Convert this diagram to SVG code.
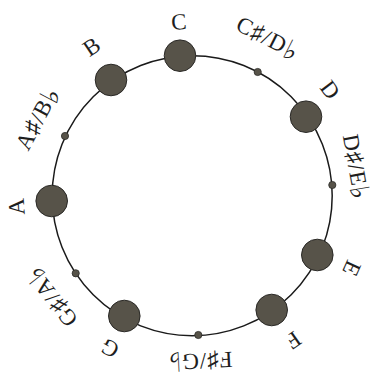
<svg xmlns="http://www.w3.org/2000/svg" width="378" height="381" viewBox="0 0 378 381">
<style>
.lbl{font-family:"Liberation Serif","DejaVu Serif",serif;font-size:23px;fill:#1e1e1e;text-anchor:middle;dominant-baseline:central}
.acc{letter-spacing:1px}
.fl{font-family:"DejaVu Serif",serif;font-size:27px}
.big{fill:#575349;stroke:#2a2926;stroke-width:1}
.small{fill:#575349;stroke:#2a2926;stroke-width:0.8}
.ring{fill:none;stroke:#1a1a1a;stroke-width:1.5}
</style>
<rect width="378" height="381" fill="#ffffff"/>
<g id="connectors">
<circle class="ring" cx="192.2" cy="195.7" r="140"/>
</g>
<g id="node-C"><circle class="big" cx="180" cy="55.7" r="15.8"/><text class="lbl" transform="translate(179,22) rotate(-4)">C</text></g>
<g id="node-Cs"><circle class="small" cx="257.7" cy="72" r="3.6"/><text class="lbl acc" transform="translate(268,38) rotate(27)">C♯/D<tspan class="fl">♭</tspan></text></g>
<g id="node-D"><circle class="big" cx="306" cy="116.7" r="15.8"/><text class="lbl" transform="translate(330,90) rotate(53)">D</text></g>
<g id="node-Ds"><circle class="small" cx="332.3" cy="185" r="3.6"/><text class="lbl acc" transform="translate(356,167) rotate(80)">D♯/E<tspan class="fl">♭</tspan></text></g>
<g id="node-E"><circle class="big" cx="317.3" cy="255" r="15.8"/><text class="lbl" transform="translate(351.7,268.3) rotate(114.5)">E</text></g>
<g id="node-F"><circle class="big" cx="271.7" cy="310" r="15.8"/><text class="lbl" transform="translate(293.3,340) rotate(145)">F</text></g>
<g id="node-Fs"><circle class="small" cx="198.3" cy="335" r="3.6"/><text class="lbl acc" transform="translate(200,361) rotate(177)">F♯/G<tspan class="fl">♭</tspan></text></g>
<g id="node-G"><circle class="big" cx="124.3" cy="316" r="15.8"/><text class="lbl" transform="translate(110,348.3) rotate(208)">G</text></g>
<g id="node-Gs"><circle class="small" cx="75.7" cy="273.3" r="3.6"/><text class="lbl acc" transform="translate(51.7,296.7) rotate(232)">G♯/A<tspan class="fl">♭</tspan></text></g>
<g id="node-A"><circle class="big" cx="51.7" cy="201" r="15.8"/><text class="lbl" transform="translate(16.7,206.7) rotate(266)">A</text></g>
<g id="node-As"><circle class="small" cx="65" cy="136" r="3.6"/><text class="lbl acc" transform="translate(37.5,118.3) rotate(298)">A♯/B<tspan class="fl">♭</tspan></text></g>
<g id="node-B"><circle class="big" cx="111" cy="80" r="15.8"/><text class="lbl" transform="translate(91.7,46.7) rotate(326)">B</text></g>
</svg>
